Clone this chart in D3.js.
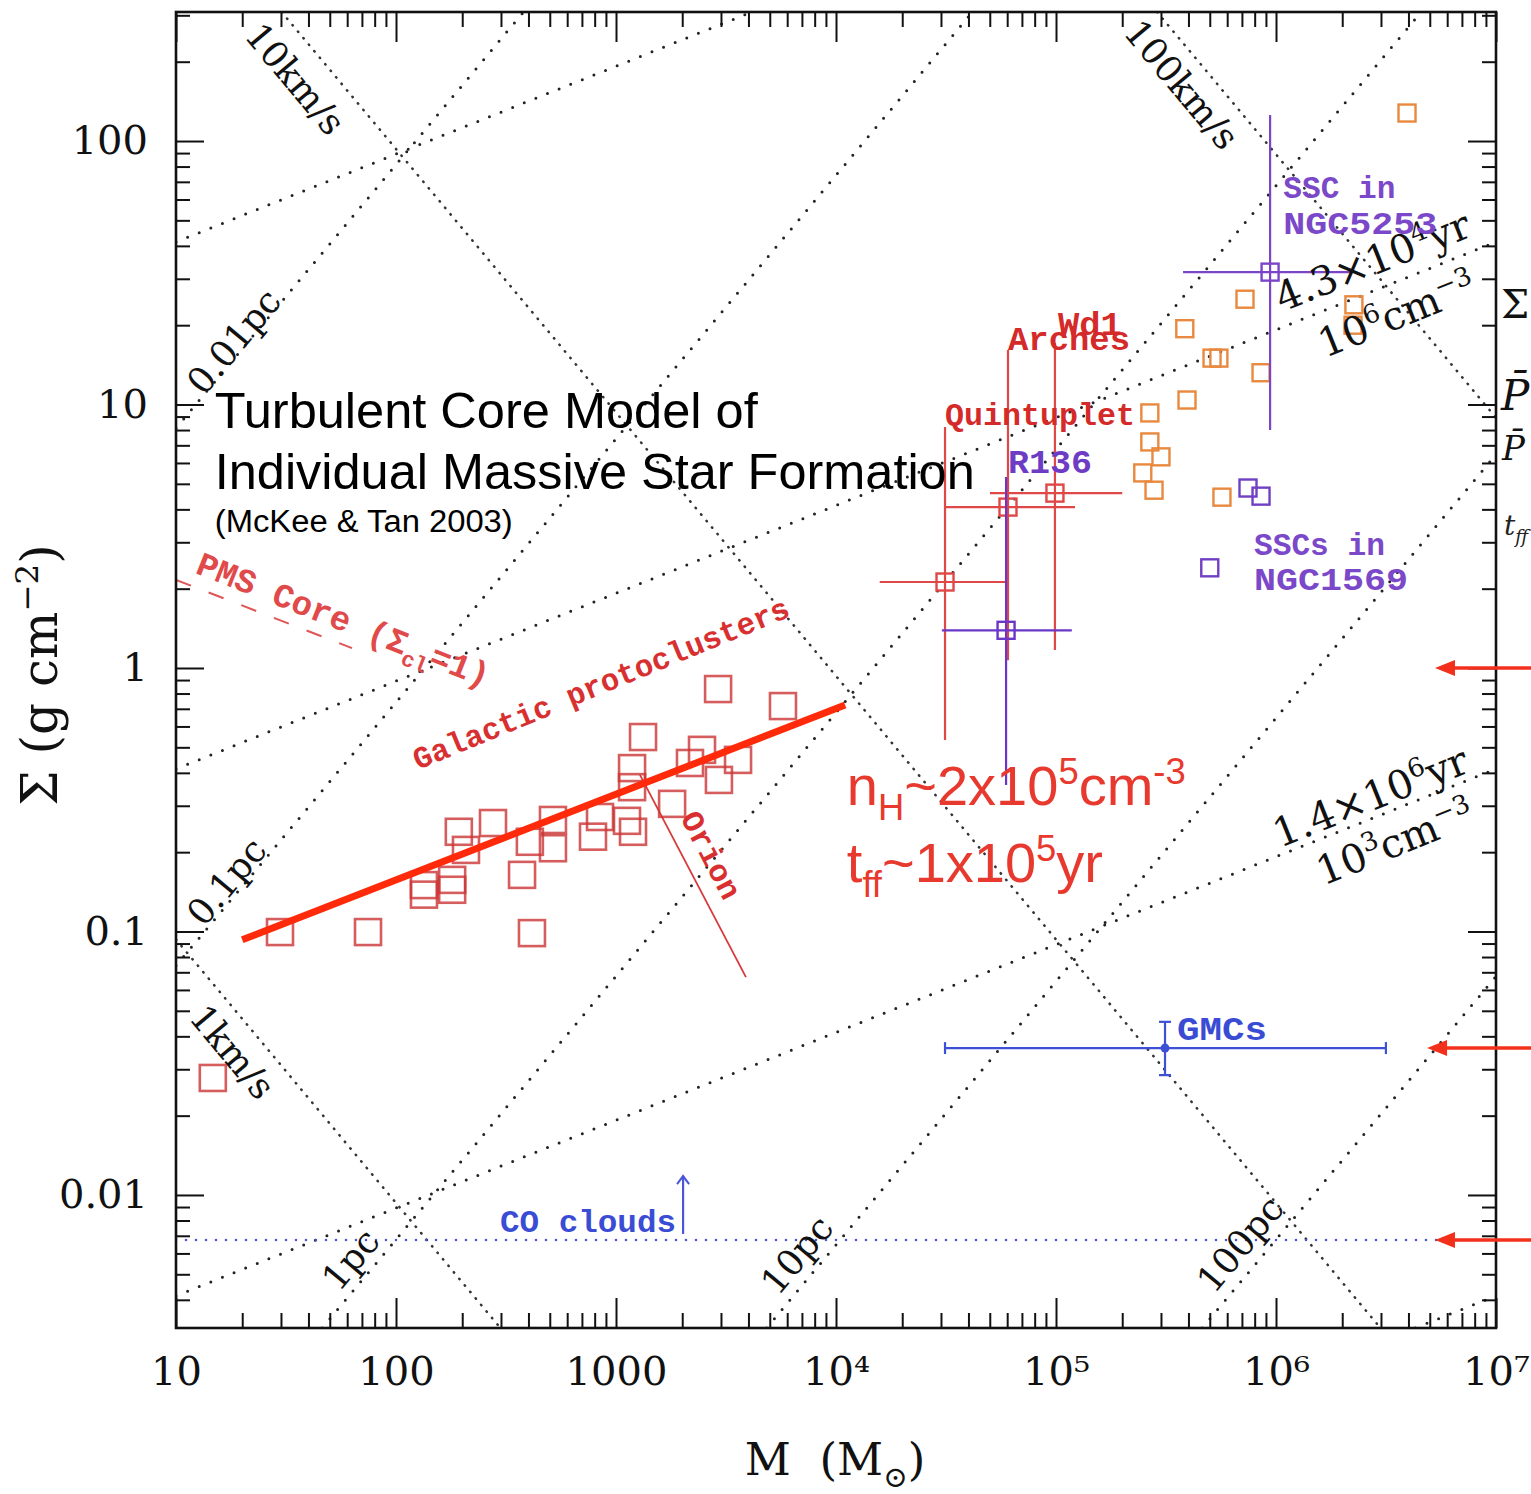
<!DOCTYPE html>
<html lang="en">
<head>
<meta charset="UTF-8">
<title>Surface density vs mass</title>
<script src="https://cdn.jsdelivr.net/npm/d3@7/dist/d3.min.js"></script>
<style>
  body { margin: 0; background: #fff; }
  svg { display: block; }
</style>
</head>
<body>
<svg id="chart"></svg>
<script>
// ---- data: M in Msun, Sigma in g cm^-2 ----
var xTicks = [10, 100, 1000, 1e4, 1e5, 1e6, 1e7];
var xTickLabels = ["10", "100", "1000", "10⁴", "10⁵", "10⁶", "10⁷"];
var yTicks = [0.01, 0.1, 1, 10, 100];
var yTickLabels = ["0.01", "0.1", "1", "10", "100"];

// galactic protoclusters
var protoM = [2911, 5741, 1327, 1183, 1183, 2460, 2169, 3587, 2937, 1799, 1122, 1195, 846, 786, 517,
              517, 406, 374, 276, 193, 208, 180, 180, 134, 134, 415, 29.7, 74.6, 14.7];
var protoS = [0.832, 0.717, 0.547, 0.417, 0.353, 0.489, 0.436, 0.448, 0.376, 0.305, 0.263, 0.239, 0.272, 0.229, 0.265,
              0.207, 0.219, 0.164, 0.258, 0.239, 0.204, 0.157, 0.144, 0.150, 0.138, 0.0986, 0.0995, 0.0995, 0.0278];

// massive young clusters (orange)
var clusterM = [3.94e6, 3.85e5, 7.23e5, 5.12e5, 5.5e5, 8.55e5, 3.94e5, 2.67e5, 2.67e5, 3.0e5, 2.48e5, 2.79e5, 5.68e5, 2.26e6, 2.24e6];
var clusterS = [127.7, 19.4, 25.1, 15.0, 15.0, 13.2, 10.4, 9.29, 7.21, 6.33, 5.50, 4.73, 4.45, 23.9, 20.0];

// SSCs in NGC1569
var ngc1569M = [7.46e5, 8.55e5, 5.0e5];
var ngc1569S = [4.82, 4.49, 2.40];

// objects with error bars
var errNames = ["Quintuplet", "Arches", "Wd1", "R136", "NGC5253", "GMCs"];
var errM   = [3.13e4, 6.05e4, 9.89e4, 5.93e4, 9.4e5, 3.13e5];
var errS   = [2.12, 4.08, 4.61, 1.39, 31.8, 0.0361];
var errMlo = [1.58e4, 3.13e4, 5.01e4, 3.03e4, 3.78e5, 3.13e4];
var errMhi = [6.05e4, 1.22e5, 2.0e5, 1.18e5, 2.17e6, 3.16e6];
var errSlo = [0.533, 1.07, 1.17, 0.36, 8.0, 0.0285];
var errShi = [8.22, 16.1, 17.1, 5.31, 125.6, 0.0454];

// guide lines, each as two end points
var radiusLabels = ["0.01pc", "0.1pc", "1pc", "10pc", "100pc"];
var radiusLines = [[[10, 8.13], [380, 309]], [[10, 0.0741], [41700, 309]], [[46.2, 0.00313], [4.57e6, 309]],
                   [[4842, 0.00313], [1e7, 6.46]], [[4.62e5, 0.00313], [1e7, 0.0676]]];
var velocityLabels = ["1km/s", "10km/s", "100km/s"];
var velocityLines = [[[10, 0.0933], [298, 0.00313]], [[30.2, 309], [2.98e6, 0.00313]], [[2.88e5, 309], [1e7, 8.91]]];
var densityLines = [[[10, 41.4], [4150, 309]], [[10, 0.414], [1e7, 41.4]], [[10, 0.00414], [1e7, 0.414]],
                    [[4.3e6, 0.00313], [1e7, 0.00414]]];

var fitLine = [[20, 0.093], [1.1e4, 0.724]];
var orionLine = [[1285, 0.393], [3896, 0.0671]];
var pmsLine = [[10, 2.16], [63.1, 1.19]];
var coLevel = 0.00675;
var coArrowM = 2018, coArrowTop = 0.0118;
var arrowS = [1, 0.0361, 0.00675];
var arrowTipM = [5.28e6, 4.86e6, 5.28e6];

// ---- setup ----
var W = 1531, H = 1494;
var frame = {left: 176, right: 1496, top: 12, bottom: 1328};
var x = d3.scaleLog().domain([10, 1e7]).range([frame.left, frame.right]);
var y = d3.scaleLog().domain([0.003127, 308.8]).range([frame.bottom, frame.top]);

var SERIF = "'DejaVu Serif', serif",
    MONO = "'Liberation Mono', 'DejaVu Sans Mono', monospace",
    SANS = "'Liberation Sans', Arial, sans-serif";

var svg = d3.select("#chart").attr("width", W).attr("height", H);
svg.append("rect").attr("width", W).attr("height", H).attr("fill", "#fff");

svg.append("defs").append("clipPath").attr("id", "clip")
  .append("rect").attr("x", frame.left).attr("y", frame.top)
  .attr("width", frame.right - frame.left).attr("height", frame.bottom - frame.top);

var plot = svg.append("g").attr("clip-path", "url(#clip)");
var line = d3.line().x(d => x(d[0])).y(d => y(d[1]));

function dotted(sel, dash, width, color) {
  sel.attr("d", line).attr("fill", "none").attr("stroke", color)
    .attr("stroke-width", width).attr("stroke-linecap", "round").attr("stroke-dasharray", dash);
}

plot.selectAll(".rad").data(radiusLines).enter().append("path").attr("class", "rad")
  .call(dotted, "0 12", 3, "#222");
plot.selectAll(".den").data(densityLines).enter().append("path").attr("class", "den")
  .call(dotted, "0 12.5", 3, "#222");
plot.selectAll(".vel").data(velocityLines).enter().append("path").attr("class", "vel")
  .call(dotted, "0.5 8", 2.5, "#333");

// CO clouds level
plot.append("path").datum([[10, coLevel], [1e7, coLevel]]).call(dotted, "0 10", 2.6, "#4b55c8");
plot.append("line")
  .attr("x1", x(coArrowM)).attr("x2", x(coArrowM))
  .attr("y1", y(coLevel) - 6).attr("y2", y(coArrowTop))
  .attr("stroke", "#4b55d8").attr("stroke-width", 2.2);
plot.append("path")
  .attr("d", `M${x(coArrowM) - 6},${y(coArrowTop) + 8} L${x(coArrowM)},${y(coArrowTop)} L${x(coArrowM) + 6},${y(coArrowTop) + 8}`)
  .attr("fill", "none").attr("stroke", "#4b55d8").attr("stroke-width", 2);

// PMS core dashed line
plot.append("path").datum(pmsLine).attr("d", line).attr("fill", "none")
  .attr("stroke", "#e05555").attr("stroke-width", 2).attr("stroke-dasharray", "16 19");

// Orion line
plot.append("path").datum(orionLine).attr("d", line).attr("fill", "none")
  .attr("stroke", "#d83a3a").attr("stroke-width", 1.8);

// galactic protocluster squares
var protoSize = 26;
plot.selectAll(".proto").data(protoM).enter().append("rect")
  .attr("x", (d, i) => x(d) - protoSize / 2).attr("y", (d, i) => y(protoS[i]) - protoSize / 2)
  .attr("width", protoSize).attr("height", protoSize)
  .attr("fill", "none").attr("stroke", "#cc3535").attr("stroke-width", 2.6).attr("opacity", 0.8);

// orange clusters
var small = 17;
plot.selectAll(".clus").data(clusterM).enter().append("rect")
  .attr("x", d => x(d) - small / 2).attr("y", (d, i) => y(clusterS[i]) - small / 2)
  .attr("width", small).attr("height", small)
  .attr("fill", "none").attr("stroke", "#e8893f").attr("stroke-width", 2.4);

plot.selectAll(".n1569").data(ngc1569M).enter().append("rect")
  .attr("x", d => x(d) - small / 2).attr("y", (d, i) => y(ngc1569S[i]) - small / 2)
  .attr("width", small).attr("height", small)
  .attr("fill", "none").attr("stroke", "#7040c4").attr("stroke-width", 2.4);

// error bars
var errColor = ["#e04848", "#e04848", "#e04848", "#6a36c8", "#7c45c8", "#3d50d8"];
var errG = plot.selectAll(".err").data(errM).enter().append("g");
errG.append("line")
  .attr("x1", (d, i) => x(errMlo[i])).attr("x2", (d, i) => x(errMhi[i]))
  .attr("y1", (d, i) => y(errS[i])).attr("y2", (d, i) => y(errS[i]))
  .attr("stroke", (d, i) => errColor[i]).attr("stroke-width", 2.2);
errG.append("line")
  .attr("x1", d => x(d)).attr("x2", d => x(d))
  .attr("y1", (d, i) => y(errSlo[i])).attr("y2", (d, i) => y(errShi[i]))
  .attr("stroke", (d, i) => errColor[i]).attr("stroke-width", 2.2);
errG.filter((d, i) => errNames[i] !== "GMCs").append("rect")
  .attr("x", d => x(d) - small / 2).attr("y", d => y(errS[errM.indexOf(d)]) - small / 2)
  .attr("width", small).attr("height", small)
  .attr("fill", "none").attr("stroke", d => errColor[errM.indexOf(d)]).attr("stroke-width", 2.4);

// GMC caps and dot
var gi = errNames.indexOf("GMCs");
var gmc = plot.append("g").attr("stroke", errColor[gi]).attr("stroke-width", 2.2);
[errMlo[gi], errMhi[gi]].forEach(m => {
  gmc.append("line").attr("x1", x(m)).attr("x2", x(m)).attr("y1", y(errS[gi]) - 6).attr("y2", y(errS[gi]) + 6);
});
[errSlo[gi], errShi[gi]].forEach(s => {
  gmc.append("line").attr("x1", x(errM[gi]) - 6).attr("x2", x(errM[gi]) + 6).attr("y1", y(s)).attr("y2", y(s));
});
plot.append("circle").attr("cx", x(errM[gi])).attr("cy", y(errS[gi])).attr("r", 4.5).attr("fill", errColor[gi]);

// fit line
plot.append("path").datum(fitLine).attr("d", line).attr("stroke", "#ff2a0a").attr("stroke-width", 7).attr("fill", "none");

// ---- axes ----
function isMajor(d) { return Math.abs(Math.log10(d) - Math.round(Math.log10(d))) < 1e-6; }
var xMinor = x.ticks().filter(d => !isMajor(d));
var yMinor = y.ticks().filter(d => !isMajor(d));

function tidy(g) {
  g.select(".domain").remove();
  g.selectAll(".tick line").attr("stroke", "#111").attr("stroke-width", 2);
}

svg.append("g").attr("transform", `translate(0,${frame.bottom})`)
  .call(d3.axisBottom(x).tickValues(xTicks).tickSize(-30).tickPadding(29)
    .tickFormat(d => xTickLabels[xTicks.indexOf(d)]))
  .call(tidy)
  .call(g => g.selectAll("text").attr("font-family", SERIF).attr("font-size", 40).attr("fill", "#111"));
svg.append("g").attr("transform", `translate(0,${frame.bottom})`)
  .call(d3.axisBottom(x).tickValues(xMinor).tickSize(-15).tickFormat(""))
  .call(tidy);
svg.append("g").attr("transform", `translate(0,${frame.top})`)
  .call(d3.axisTop(x).tickValues(xTicks).tickSize(-30).tickFormat(""))
  .call(tidy);
svg.append("g").attr("transform", `translate(0,${frame.top})`)
  .call(d3.axisTop(x).tickValues(xMinor).tickSize(-15).tickFormat(""))
  .call(tidy);

svg.append("g").attr("transform", `translate(${frame.left},0)`)
  .call(d3.axisLeft(y).tickValues(yTicks).tickSize(-28).tickPadding(28)
    .tickFormat(d => yTickLabels[yTicks.indexOf(d)]))
  .call(tidy)
  .call(g => g.selectAll("text").attr("font-family", SERIF).attr("font-size", 40).attr("fill", "#111"));
svg.append("g").attr("transform", `translate(${frame.left},0)`)
  .call(d3.axisLeft(y).tickValues(yMinor).tickSize(-14).tickFormat(""))
  .call(tidy);
svg.append("g").attr("transform", `translate(${frame.right},0)`)
  .call(d3.axisRight(y).tickValues(yTicks).tickSize(-28).tickFormat(""))
  .call(tidy);
svg.append("g").attr("transform", `translate(${frame.right},0)`)
  .call(d3.axisRight(y).tickValues(yMinor).tickSize(-14).tickFormat(""))
  .call(tidy);

svg.append("rect").attr("x", frame.left).attr("y", frame.top)
  .attr("width", frame.right - frame.left).attr("height", frame.bottom - frame.top)
  .attr("fill", "none").attr("stroke", "#111").attr("stroke-width", 2.6);

// ---- text ----
function rich(t, parts, size) {
  var shift = 0;
  parts.forEach(p => {
    var target = p[1] === 1 ? -0.38 * size : p[1] === -1 ? 0.27 * size : 0;
    t.append("tspan").attr("dy", target - shift)
      .attr("font-size", p[1] ? size * 0.65 : size).text(p[0]);
    shift = target;
  });
}

function addLabel(o) {
  var px = o.px ? o.px : [x(o.at[0]), y(o.at[1])];
  var t = svg.append("text")
    .attr("transform", `translate(${px[0]},${px[1]}) rotate(${o.rot || 0})`)
    .attr("font-family", o.font).attr("font-size", o.size)
    .attr("font-weight", o.bold ? "bold" : null)
    .attr("font-style", o.italic ? "italic" : null)
    .attr("text-anchor", o.anchor || "start")
    .attr("fill", o.color || "#111");
  if (typeof o.text === "string") t.text(o.text);
  else rich(t, o.text, o.size);
  if (o.len) t.attr("textLength", o.len).attr("lengthAdjust", "spacingAndGlyphs");
  return t;
}

var degR = Math.atan2(y(10) - y(1), x(100) - x(10)) * 180 / Math.PI;      // slope +1
var degD = Math.atan2((y(10) - y(1)) / 3, x(100) - x(10)) * 180 / Math.PI; // slope 1/3

var radiusAt = [[13.4, 10.7], [13.4, 0.103], [55.1, 0.00425], [5450, 0.0041], [5.22e5, 0.00417]];
radiusLabels.forEach((s, i) => addLabel({text: s, at: radiusAt[i], rot: degR, font: SERIF, size: 36}));
var velocityAt = [[11.3, 0.047], [20.2, 250], [2.0e5, 257]];
velocityLabels.forEach((s, i) => addLabel({text: s, at: velocityAt[i], rot: -degR, font: SERIF, size: 36}));

addLabel({text: [["4.3×10", 0], ["4", 1], ["yr", 0]], at: [1.065e6, 22.4], rot: degD, font: SERIF, size: 40});
addLabel({text: [["10", 0], ["6", 1], ["cm", 0], ["−3", 1]], at: [1.67e6, 15.0], rot: degD, font: SERIF, size: 40});
addLabel({text: [["1.4×10", 0], ["6", 1], ["yr", 0]], at: [1.04e6, 0.2075], rot: degD, font: SERIF, size: 40});
addLabel({text: [["10", 0], ["3", 1], ["cm", 0], ["−3", 1]], at: [1.64e6, 0.149], rot: degD, font: SERIF, size: 40});

var RED = "#d42a2a", PURPLE = "#6e3cc4", BLUE = "#3a4cd4";
addLabel({text: "Wd1", at: [1.02e5, 18.4], font: MONO, bold: true, size: 33, color: RED, len: 64});
addLabel({text: "Arches", at: [6.05e4, 16.1], font: MONO, bold: true, size: 33, color: RED, len: 122});
addLabel({text: "Quintuplet", at: [3.13e4, 8.36], font: MONO, bold: true, size: 32, color: RED, len: 190});
addLabel({text: "R136", at: [6.05e4, 5.5], font: MONO, bold: true, size: 33, color: PURPLE, len: 84});
addLabel({text: "SSC in", at: [1.08e6, 60.8], font: MONO, bold: true, size: 32, color: "#7a48c8", len: 112});
addLabel({text: "NGC5253", at: [1.08e6, 44.4], font: MONO, bold: true, size: 32, color: "#7a48c8", len: 154});
addLabel({text: "SSCs in", at: [7.94e5, 2.69], font: MONO, bold: true, size: 32, color: "#7a48c8", len: 131});
addLabel({text: "NGC1569", at: [7.94e5, 1.98], font: MONO, bold: true, size: 32, color: "#7a48c8", len: 154});
addLabel({text: "GMCs", at: [3.55e5, 0.0387], font: MONO, bold: true, size: 33, color: BLUE, len: 90});
addLabel({text: "CO clouds", at: [297, 0.00724], font: MONO, bold: true, size: 32, color: BLUE, len: 176});
addLabel({text: "Galactic protoclusters", at: [126, 0.41], rot: -22.4, font: MONO, bold: true, size: 31,
          color: "#d83030", len: 404});
addLabel({text: [["PMS Core (Σ", 0], ["cl", -1], ["=1)", 0]], at: [12.1, 2.30], rot: 21.6, font: MONO, bold: true,
          size: 34, color: "#e04a4a"});
addLabel({text: "Orion", at: [1954, 0.27], rot: 62.3, font: MONO, bold: true, size: 31, color: "#d83030", len: 95});

addLabel({text: "Turbulent Core Model of", at: [15.0, 8.15], font: SANS, size: 50, color: "#000", len: 543});
addLabel({text: "Individual Massive Star Formation", at: [15.0, 4.78], font: SANS, size: 50, color: "#000", len: 760});
addLabel({text: "(McKee & Tan 2003)", at: [15.0, 3.28], font: SANS, size: 31, color: "#000", len: 298});

addLabel({text: [["n", 0], ["H", -1], ["~2x10", 0], ["5", 1], ["cm", 0], ["-3", 1]], at: [1.12e4, 0.302],
          font: SANS, size: 56, color: "#e8392e"});
addLabel({text: [["t", 0], ["ff", -1], ["~1x10", 0], ["5", 1], ["yr", 0]], at: [1.12e4, 0.154],
          font: SANS, size: 56, color: "#e8392e"});

// axis titles
var yt = svg.append("text").attr("transform", `translate(57,675) rotate(-90)`)
  .attr("text-anchor", "middle").attr("font-family", SERIF).attr("font-size", 50).attr("fill", "#111");
rich(yt, [["Σ (g cm", 0], ["−2", 1], [")", 0]], 50);
var xt = svg.append("text").attr("transform", `translate(835,1475)`)
  .attr("text-anchor", "middle").attr("font-family", SERIF).attr("font-size", 45).attr("fill", "#111");
rich(xt, [["M  (M", 0], ["⊙", -1], [")", 0]], 45);
xt.style("white-space", "pre");

// text from the neighbouring panel at the right edge
addLabel({text: "Σ", px: [1501, 318], font: SERIF, size: 40, color: "#111"});
addLabel({text: "P\u0304", px: [1501, 410], font: SERIF, italic: true, size: 42, color: "#111"});
addLabel({text: "P\u0304", px: [1502, 460], font: SERIF, italic: true, size: 34, color: "#111"});
addLabel({text: [["t", 0], ["ff", -1]], px: [1504, 535], font: SERIF, italic: true, size: 28, color: "#222"});

// red arrows pointing at the axis
var arrows = svg.append("g");
arrowS.forEach((s, i) => {
  var tx = x(arrowTipM[i]), ty = y(s);
  arrows.append("line").attr("x1", W).attr("x2", tx + 14).attr("y1", ty).attr("y2", ty)
    .attr("stroke", "#f2301c").attr("stroke-width", 3.5);
  arrows.append("path").attr("d", `M${tx},${ty} L${tx + 20},${ty - 8} L${tx + 20},${ty + 8} Z`)
    .attr("fill", "#f2301c");
});
</script>
</body>
</html>
